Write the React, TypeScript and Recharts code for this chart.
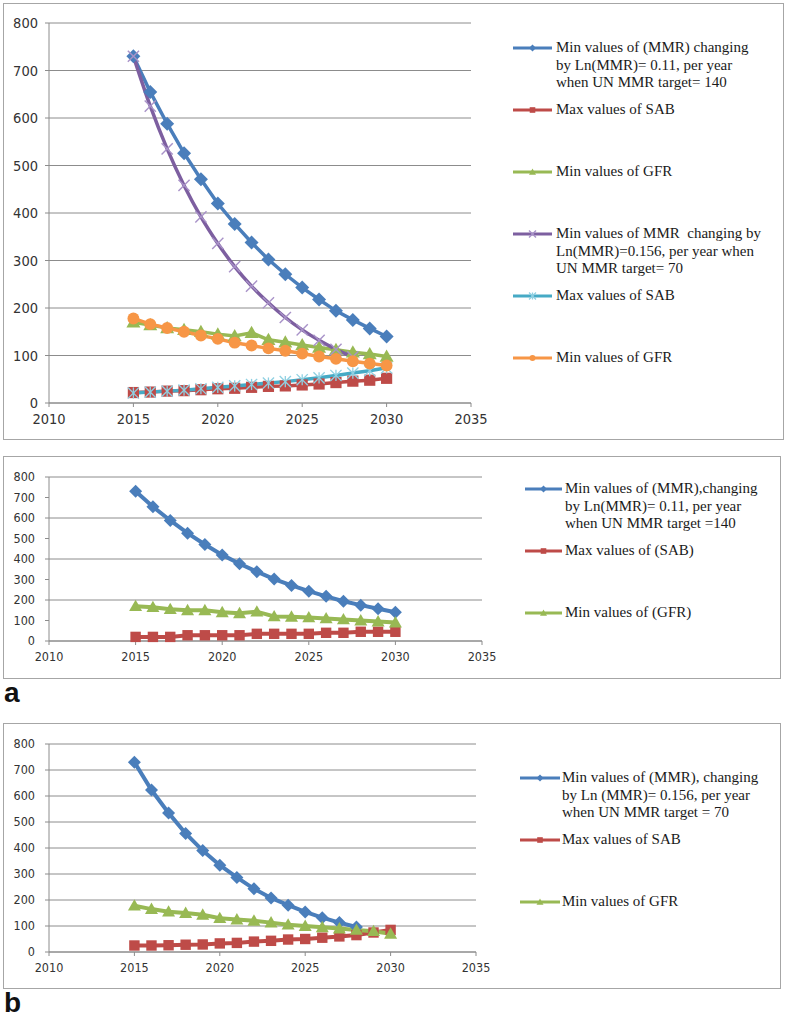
import React from "react";
import { CartesianGrid, Legend, Line, LineChart, XAxis, YAxis } from "recharts";

// categories (years) and axis ticks
const YEARS = [2015, 2016, 2017, 2018, 2019, 2020, 2021, 2022, 2023, 2024, 2025, 2026, 2027, 2028, 2029, 2030];
const X_TICKS = [2010, 2015, 2020, 2025, 2030, 2035];
const Y_TICKS = [0, 100, 200, 300, 400, 500, 600, 700, 800];

// top chart (both scenarios together)
const topMmr011 = [730, 655, 588, 526, 471, 420, 377, 338, 302, 271, 243, 218, 194, 175, 157, 140];
const topSab = [22, 23, 25, 26, 28, 30, 31, 33, 35, 36, 38, 40, 43, 46, 48, 52];
const topGfr = [170, 164, 158, 154, 150, 145, 141, 148, 133, 128, 122, 117, 112, 107, 103, 98];
const topMmr0156 = [730, 625, 535, 458, 392, 336, 287, 246, 211, 180, 154, 132, 113, 97, null, null];
const topSab2 = [21, 23, 25, 27, 30, 33, 36, 39, 42, 45, 49, 53, 58, 63, 68, 74];
const topGfr2 = [178, 166, 158, 150, 142, 135, 127, 121, 115, 110, 104, 98, 93, 88, 83, 79];

// panel a
const aMmr = [730, 655, 588, 526, 471, 420, 377, 338, 302, 271, 243, 218, 194, 175, 157, 140];
const aSab = [20, 20, 20, 28, 28, 28, 28, 35, 35, 35, 35, 40, 40, 45, 45, 45];
const aGfr = [170, 165, 155, 150, 150, 140, 135, 143, 120, 118, 115, 110, 105, 100, 95, 90];

// panel b
const bMmr = [730, 623, 535, 456, 390, 334, 287, 243, 208, 180, 154, 132, 113, 96, null, null];
const bSab = [25, 25, 26, 28, 29, 33, 35, 40, 43, 48, 50, 55, 60, 65, 75, 85];
const bGfr = [178, 165, 155, 150, 143, 130, 125, 120, 113, 105, 100, 95, 90, 85, 80, 70];

const BLUE = "#4a7ebb";
const RED = "#be4b48";
const GREEN = "#98b954";
const PURPLE = "#7d5fa0";
const CYAN = "#46aac5";
const ORANGE = "#f79646";
const GRID = "#8c8c8c";
const TICK_FONT = "'Liberation Sans Narrow', 'DejaVu Sans Condensed', sans-serif";

type Shape = "diamond" | "square" | "triangle" | "circle" | "x" | "star";

type SeriesDef = {
  key: string;
  values: (number | null)[];
  color: string;
  shape: Shape;
  smooth?: boolean;
  label: string[];
};

function buildRows(series: SeriesDef[]) {
  return YEARS.map((year, i) => {
    const row: Record<string, number | null> = { year };
    series.forEach((s) => {
      row[s.key] = s.values[i] ?? null;
    });
    return row;
  });
}

function marker(shape: Shape, color: string, cx: number, cy: number, r: number, key?: string | number) {
  switch (shape) {
    case "diamond":
      return <path key={key} d={`M${cx},${cy - r}L${cx + r},${cy}L${cx},${cy + r}L${cx - r},${cy}Z`} fill={color} />;
    case "square":
      return <rect key={key} x={cx - r * 0.8} y={cy - r * 0.8} width={r * 1.6} height={r * 1.6} fill={color} />;
    case "triangle":
      return <path key={key} d={`M${cx},${cy - r}L${cx + r},${cy + r * 0.75}L${cx - r},${cy + r * 0.75}Z`} fill={color} />;
    case "circle":
      return <circle key={key} cx={cx} cy={cy} r={r * 0.85} fill={color} />;
    case "x":
      return (
        <g key={key} stroke="#a892c8" strokeWidth={1.4}>
          <line x1={cx - r} y1={cy - r} x2={cx + r} y2={cy + r} />
          <line x1={cx - r} y1={cy + r} x2={cx + r} y2={cy - r} />
        </g>
      );
    case "star":
      return (
        <g key={key} stroke="#8fd0e2" strokeWidth={1.3}>
          <line x1={cx - r} y1={cy - r} x2={cx + r} y2={cy + r} />
          <line x1={cx - r} y1={cy + r} x2={cx + r} y2={cy - r} />
          <line x1={cx} y1={cy - r} x2={cx} y2={cy + r} />
        </g>
      );
  }
}

function makeDot(shape: Shape, color: string, r: number) {
  return (props: any) => {
    const { cx, cy, value, index } = props;
    if (cx == null || cy == null || value == null) return <g key={`e${index}`} />;
    return marker(shape, color, cx, cy, r, `d${index}`);
  };
}

type PanelProps = {
  left: number;
  top: number;
  width: number;
  height: number;
  margin: { top: number; right: number; bottom: number; left: number };
  series: SeriesDef[];
  fontSize: number;
  dotR: number;
  strokeWidth: number;
  yTickMargin: number;
  legendLeft: number;
  legendTop: number;
  legendTextOffset: number;
  legendLineWidth: number;
};

function Panel(p: PanelProps) {
  const rows = buildRows(p.series);
  const renderLegend = () => (
    <div style={{ width: 230 }}>
      {p.series.map((s) => (
        <div key={s.key} style={{ position: "relative", height: 62 }}>
          <svg width={p.legendLineWidth} height={12} style={{ position: "absolute", left: 0, top: 3 }}>
            <line x1={0} y1={6} x2={p.legendLineWidth} y2={6} stroke={s.color} strokeWidth={3} />
            {marker(s.shape, s.color, p.legendLineWidth / 2, 6, 3.5)}
          </svg>
          <div
            style={{
              position: "absolute",
              left: p.legendTextOffset,
              top: 0,
              fontFamily: "'Liberation Serif', serif",
              fontSize: 15,
              lineHeight: "17.5px",
              color: "#1a1a1a",
              whiteSpace: "pre",
            }}
          >
            {s.label.map((l) => (
              <div key={l}>{l}</div>
            ))}
          </div>
        </div>
      ))}
    </div>
  );

  return (
    <div style={{ position: "absolute", left: p.left, top: p.top, width: p.width, height: p.height }}>
      <LineChart width={p.width} height={p.height} data={rows} margin={p.margin}>
        <CartesianGrid horizontal vertical={false} stroke={GRID} strokeWidth={1} />
        <XAxis
          dataKey="year"
          type="number"
          domain={[2010, 2035]}
          ticks={X_TICKS}
          allowDataOverflow
          height={26}
          stroke={GRID}
          tickSize={4}
          tickMargin={7}
          tick={{ fontSize: p.fontSize, fill: "#333", fontFamily: TICK_FONT }}
        />
        <YAxis
          type="number"
          domain={[0, 800]}
          ticks={Y_TICKS}
          width={40}
          stroke={GRID}
          tickSize={4}
          tickMargin={p.yTickMargin}
          tick={{ fontSize: p.fontSize, fill: "#333", fontFamily: TICK_FONT }}
        />
        <Legend
          layout="vertical"
          align="center"
          verticalAlign="middle"
          wrapperStyle={{ left: p.legendLeft, top: p.legendTop, width: 230, height: "auto" }}
          content={renderLegend}
        />
        {p.series.map((s) => (
          <Line
            key={s.key}
            dataKey={s.key}
            type={s.smooth ? "monotone" : "linear"}
            stroke={s.color}
            strokeWidth={p.strokeWidth}
            dot={makeDot(s.shape, s.color, s.shape === "x" || s.shape === "star" ? p.dotR * 0.8 : p.dotR)}
            activeDot={false}
            isAnimationActive={false}
          />
        ))}
      </LineChart>
      <div
        style={{
          position: "absolute",
          left: 0,
          top: 0,
          width: p.width,
          height: p.height,
          border: "1.5px solid #a6a6a6",
          boxSizing: "border-box",
          pointerEvents: "none",
        }}
      />
    </div>
  );
}

const topSeries: SeriesDef[] = [
  { key: "mmr011", values: topMmr011, color: BLUE, shape: "diamond", label: ["Min values of (MMR) changing", "by Ln(MMR)= 0.11, per year", "when UN MMR target= 140"] },
  { key: "sab", values: topSab, color: RED, shape: "square", label: ["Max values of SAB"] },
  { key: "gfr", values: topGfr, color: GREEN, shape: "triangle", label: ["Min values of GFR"] },
  { key: "mmr0156", values: topMmr0156, color: PURPLE, shape: "x", smooth: true, label: ["Min values of MMR  changing by", "Ln(MMR)=0.156, per year when", "UN MMR target= 70"] },
  { key: "sab2", values: topSab2, color: CYAN, shape: "star", label: ["Max values of SAB"] },
  { key: "gfr2", values: topGfr2, color: ORANGE, shape: "circle", label: ["Min values of GFR"] },
];

const aSeries: SeriesDef[] = [
  { key: "mmr", values: aMmr, color: BLUE, shape: "diamond", label: ["Min values of (MMR),changing", "by Ln(MMR)= 0.11, per year", "when UN MMR target =140"] },
  { key: "sab", values: aSab, color: RED, shape: "square", label: ["Max values of (SAB)"] },
  { key: "gfr", values: aGfr, color: GREEN, shape: "triangle", label: ["Min values of (GFR)"] },
];

const bSeries: SeriesDef[] = [
  { key: "mmr", values: bMmr, color: BLUE, shape: "diamond", label: ["Min values of (MMR), changing", "by Ln (MMR)= 0.156, per year", "when UN MMR target = 70"] },
  { key: "sab", values: bSab, color: RED, shape: "square", label: ["Max values of SAB"] },
  { key: "gfr", values: bGfr, color: GREEN, shape: "triangle", label: ["Min values of GFR"] },
];

const panelLabel: React.CSSProperties = {
  position: "absolute",
  left: 4,
  fontFamily: "'Liberation Sans', Arial, sans-serif",
  fontWeight: "bold",
  fontSize: 28,
  lineHeight: "26px",
  color: "#111",
};

export default function App() {
  return (
    <div style={{ position: "absolute", left: 0, top: 0, width: 787, height: 1020, background: "#fff", overflow: "hidden" }}>
      <Panel
        left={3}
        top={3}
        width={781}
        height={437}
        margin={{ top: 20, right: 313, bottom: 11, left: 6 }}
        series={topSeries}
        fontSize={14.5}
        dotR={7}
        strokeWidth={3.5}
        yTickMargin={7}
        legendLeft={510}
        legendTop={36}
        legendTextOffset={43}
        legendLineWidth={39}
      />
      <Panel
        left={3}
        top={456}
        width={778}
        height={223}
        margin={{ top: 21, right: 299, bottom: 12, left: 6 }}
        series={aSeries}
        fontSize={12.5}
        dotR={6.5}
        strokeWidth={4}
        yTickMargin={10}
        legendLeft={522}
        legendTop={24}
        legendTextOffset={40}
        legendLineWidth={37}
      />
      <div style={{ ...panelLabel, top: 680 }}>a</div>
      <Panel
        left={3}
        top={723}
        width={778}
        height={266}
        margin={{ top: 21, right: 305, bottom: 11, left: 6 }}
        series={bSeries}
        fontSize={12.5}
        dotR={6.5}
        strokeWidth={4}
        yTickMargin={10}
        legendLeft={517}
        legendTop={46}
        legendTextOffset={42}
        legendLineWidth={40}
      />
      <div style={{ ...panelLabel, top: 990 }}>b</div>
    </div>
  );
}
